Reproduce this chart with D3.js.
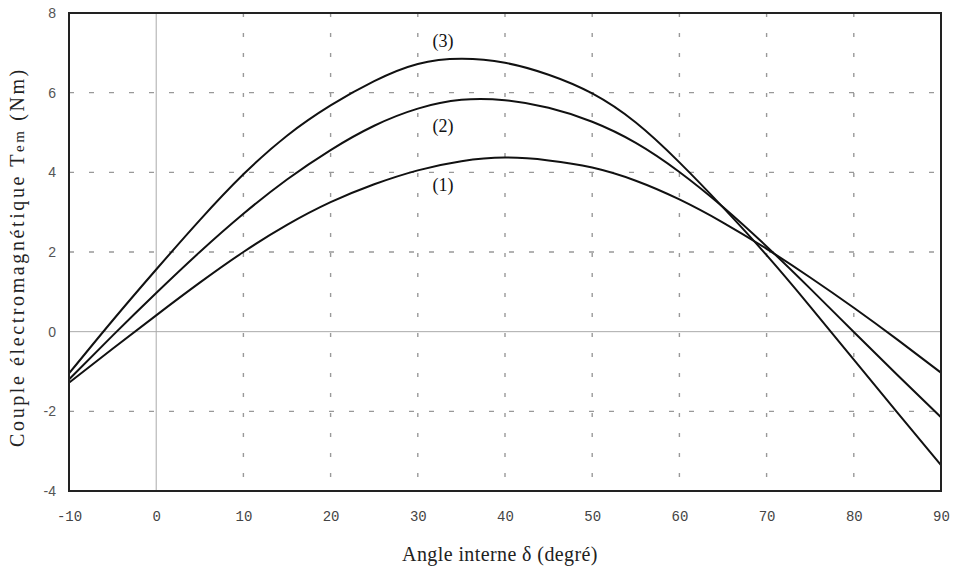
<!DOCTYPE html>
<html>
<head>
<meta charset="utf-8">
<script src="https://cdn.jsdelivr.net/npm/d3@7"></script>
<style>
  html, body { margin: 0; padding: 0; background: #fff; }
  svg { display: block; }
</style>
</head>
<body>
<svg id="chart" width="953" height="570"></svg>
<script>
const delta = [-10,-5,0,5,10,15,20,25,30,35,40,45,50,55,60,65,70,75,80,85,90];
const T1 = [-1.28,-0.43,0.41,1.23,2.00,2.68,3.25,3.70,4.05,4.28,4.37,4.30,4.12,3.79,3.32,2.74,2.08,1.36,0.60,-0.20,-1.03];
const T2 = [-1.20,-0.10,0.97,2.00,2.96,3.82,4.56,5.17,5.60,5.82,5.81,5.62,5.27,4.74,4.01,3.13,2.14,1.08,-0.01,-1.09,-2.15];
const T3 = [-1.05,0.28,1.56,2.80,3.95,4.92,5.68,6.29,6.72,6.85,6.75,6.45,5.98,5.25,4.25,3.12,1.92,0.63,-0.70,-2.03,-3.35];
const seriesLabels = ["(1)","(2)","(3)"];
const labelPos = [[32.9,3.63],[32.9,5.11],[32.9,7.25]];
const xTicks = [-10,0,10,20,30,40,50,60,70,80,90];
const yTicks = [-4,-2,0,2,4,6,8];

const svg = d3.select("#chart");
const L = 69, R = 941, T = 13, B = 491;
const x = d3.scaleLinear().domain([-10,90]).range([L,R]);
const y = d3.scaleLinear().domain([-4,8]).range([B,T]);
const fmt = v => String(v);

// grid
const g = svg.append("g");
xTicks.filter(v => v > -10 && v < 90).forEach(v => {
  g.append("line").attr("x1", x(v)).attr("x2", x(v)).attr("y1", T).attr("y2", B)
    .attr("stroke", v === 0 ? "#aaa" : "#999")
    .attr("stroke-width", v === 0 ? 1 : 1.4)
    .attr("stroke-dasharray", v === 0 ? null : "4,16");
});
yTicks.filter(v => v > -4 && v < 8).forEach(v => {
  g.append("line").attr("y1", y(v)).attr("y2", y(v)).attr("x1", L).attr("x2", R)
    .attr("stroke", v === 0 ? "#aaa" : "#999")
    .attr("stroke-width", v === 0 ? 1 : 1.4)
    .attr("stroke-dasharray", v === 0 ? null : "5,15");
});

// curves
const line = d3.line().x(d => x(d[0])).y(d => y(d[1])).curve(d3.curveNatural);
[T1, T2, T3].forEach(s => {
  svg.append("path").datum(delta.map((d, i) => [d, s[i]]))
    .attr("d", line).attr("fill", "none").attr("stroke", "#111").attr("stroke-width", 2);
});

// frame
svg.append("rect").attr("x", L).attr("y", T).attr("width", R - L).attr("height", B - T)
  .attr("fill", "none").attr("stroke", "#222").attr("stroke-width", 2);

// axes tick labels
const xAxis = d3.axisBottom(x).tickValues(xTicks).tickFormat(fmt).tickSize(0).tickPadding(20);
const xa = svg.append("g").attr("transform", `translate(0,${B})`).call(xAxis);
xa.select(".domain").remove();
xa.selectAll("text").attr("font-family", "Liberation Mono, DejaVu Sans Mono, monospace")
  .attr("font-size", 14).attr("fill", "#444");

const yAxis = d3.axisLeft(y).tickValues(yTicks).tickFormat(fmt).tickSize(0).tickPadding(13);
const ya = svg.append("g").attr("transform", `translate(${L},0)`).call(yAxis);
ya.select(".domain").remove();
ya.selectAll("text").attr("font-family", "Liberation Sans, Arial, sans-serif")
  .attr("font-size", 14).attr("fill", "#555");

// series labels
seriesLabels.forEach((t, i) => {
  svg.append("text").attr("x", x(labelPos[i][0])).attr("y", y(labelPos[i][1]))
    .attr("text-anchor", "middle").attr("dominant-baseline", "middle")
    .attr("font-family", "Liberation Serif, Times New Roman, serif").attr("font-size", 18)
    .attr("fill", "#111").text(t);
});

// axis titles
svg.append("text").attr("x", 500).attr("y", 561).attr("text-anchor", "middle")
  .attr("font-family", "Liberation Serif, Times New Roman, serif").attr("font-size", 20)
  .attr("letter-spacing", 0.4)
  .attr("fill", "#222").text("Angle interne δ (degré)");

const yt = svg.append("text").attr("transform", "translate(24,257) rotate(-90)")
  .attr("text-anchor", "middle")
  .attr("font-family", "Liberation Serif, Times New Roman, serif").attr("font-size", 20)
  .attr("letter-spacing", 2.6)
  .attr("fill", "#222");
yt.append("tspan").text("Couple électromagnétique T");
yt.append("tspan").attr("font-size", 15).text("em");
yt.append("tspan").text(" (Nm)");
</script>
</body>
</html>
